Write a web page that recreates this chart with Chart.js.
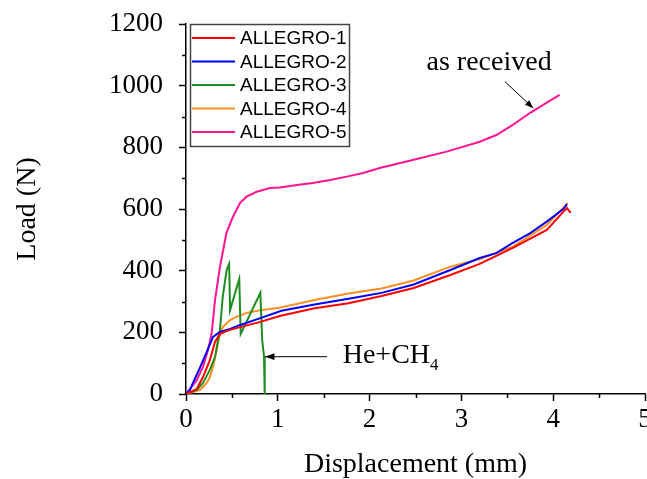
<!DOCTYPE html>
<html>
<head>
    <title>Load vs Displacement</title>
    <script src="https://cdn.jsdelivr.net/npm/chart.js"></script>
    <style>
        body {
            margin: 0;
            background-color: #fff;
        }
        #loadChart {
            display: block;
        }
    </style>
</head>
<body>
    <canvas id="loadChart" width="647" height="479"></canvas>

    <script>
        // displacement (mm) and load (N)
        var a1X = [0, 0.117, 0.185, 0.26, 0.316, 0.37, 0.48, 0.59, 0.81, 1.02, 1.40, 1.77, 2.13, 2.48, 2.88, 3.20, 3.56, 3.93, 4.13, 4.15, 4.19];
        var a1Y = [0, 16, 55, 110, 169, 195, 208, 217, 234, 253, 278, 294, 318, 344, 386, 422, 474, 532, 597, 603, 587];

        var a2X = [0, 0.044, 0.076, 0.15, 0.225, 0.294, 0.37, 0.48, 0.59, 0.81, 1.04, 1.40, 1.77, 2.13, 2.48, 2.88, 3.20, 3.38, 3.56, 3.75, 3.93, 4.11, 4.15];
        var a2Y = [0, 13, 36, 84, 136, 185, 201, 211, 224, 246, 270, 290, 309, 328, 355, 402, 441, 457, 490, 522, 559, 600, 616];

        var a3X = [0, 0.117, 0.185, 0.26, 0.316, 0.37, 0.40, 0.443, 0.47, 0.48, 0.58, 0.596, 0.81, 0.83, 0.85, 0.857];
        var a3Y = [0, 13, 36, 78, 120, 208, 315, 402, 422, 272, 373, 195, 328, 175, 121, 0];

        var a4X = [0, 0.15, 0.225, 0.26, 0.294, 0.334, 0.36, 0.40, 0.48, 0.55, 0.66, 0.81, 1.02, 1.40, 1.77, 2.13, 2.48, 2.88, 3.20, 3.56, 3.93, 4.16];
        var a4Y = [0, 13, 36, 55, 88, 143, 182, 217, 240, 250, 263, 272, 280, 305, 326, 342, 368, 413, 438, 478, 548, 620];

        var a5X = [0, 0.117, 0.185, 0.24, 0.28, 0.316, 0.37, 0.44, 0.51, 0.59, 0.66, 0.77, 0.915, 1.02, 1.21, 1.38, 1.57, 1.75, 1.93, 2.11, 2.47, 2.84, 3.20, 3.38, 3.56, 3.75, 3.93, 4.07];
        var a5Y = [0, 45, 88, 143, 198, 305, 412, 522, 574, 620, 640, 656, 668, 670, 678, 684, 694, 705, 717, 733, 759, 786, 818, 840, 873, 912, 945, 970];

        var seriesNames = ['ALLEGRO-1', 'ALLEGRO-2', 'ALLEGRO-3', 'ALLEGRO-4', 'ALLEGRO-5'];
        var seriesColors = ['#ff0000', '#0000ff', '#1e8c1e', '#ff9020', '#ff1493'];

        var xMinorTicks = [0.5, 1.5, 2.5, 3.5, 4.5];
        var yMinorTicks = [100, 300, 500, 700, 900, 1100];

        // annotation anchors in data units
        var asReceivedText = { x: 2.62, y: 1051 };
        var asReceivedArrow = { x1: 3.475, y1: 1013, x2: 3.783, y2: 927 };
        var heText = { x: 1.707, y: 100 };
        var heArrow = { x1: 1.536, y1: 121, x2: 0.861, y2: 121 };

        function toPoints(xs, ys) {
            return xs.map(function (x, i) { return { x: x, y: ys[i] }; });
        }

        var allX = [a1X, a2X, a3X, a4X, a5X];
        var allY = [a1Y, a2Y, a3Y, a4Y, a5Y];
        var datasets = seriesNames.map(function (name, i) {
            return {
                label: name,
                data: toPoints(allX[i], allY[i]),
                borderColor: seriesColors[i],
                backgroundColor: seriesColors[i],
                borderWidth: 2,
                pointRadius: 0,
                tension: 0,
                fill: false
            };
        });

        function arrow(ctx, x1, y1, x2, y2, head) {
            var ang = Math.atan2(y2 - y1, x2 - x1);
            ctx.beginPath();
            ctx.moveTo(x1, y1);
            ctx.lineTo(x2, y2);
            ctx.stroke();
            ctx.beginPath();
            ctx.moveTo(x2, y2);
            ctx.lineTo(x2 - head * Math.cos(ang - 0.35), y2 - head * Math.sin(ang - 0.35));
            ctx.lineTo(x2 - head * Math.cos(ang + 0.35), y2 - head * Math.sin(ang + 0.35));
            ctx.closePath();
            ctx.fill();
        }

        var extras = {
            id: 'extras',
            afterDraw: function (chart) {
                var ctx = chart.ctx;
                var xs = chart.scales.x, ys = chart.scales.y;
                var area = chart.chartArea;
                ctx.save();
                ctx.strokeStyle = '#000';
                ctx.fillStyle = '#000';

                // minor ticks
                ctx.lineWidth = 1.5;
                yMinorTicks.forEach(function (v) {
                    var py = Math.round(ys.getPixelForValue(v)) + 0.5;
                    ctx.beginPath();
                    ctx.moveTo(area.left - 4, py);
                    ctx.lineTo(area.left, py);
                    ctx.stroke();
                });
                xMinorTicks.forEach(function (v) {
                    var px = Math.round(xs.getPixelForValue(v)) + 0.5;
                    ctx.beginPath();
                    ctx.moveTo(px, area.bottom);
                    ctx.lineTo(px, area.bottom + 4);
                    ctx.stroke();
                });

                // annotations
                ctx.font = '28px "Liberation Serif"';
                ctx.textBaseline = 'alphabetic';
                ctx.textAlign = 'left';
                ctx.fillText('as received', xs.getPixelForValue(asReceivedText.x), ys.getPixelForValue(asReceivedText.y));
                var hx = xs.getPixelForValue(heText.x), hy = ys.getPixelForValue(heText.y);
                ctx.fillText('He+CH', hx, hy);
                var w = ctx.measureText('He+CH').width;
                ctx.font = '17px "Liberation Serif"';
                ctx.fillText('4', hx + w, hy + 7);

                ctx.lineWidth = 1;
                arrow(ctx, xs.getPixelForValue(asReceivedArrow.x1), ys.getPixelForValue(asReceivedArrow.y1),
                    xs.getPixelForValue(asReceivedArrow.x2), ys.getPixelForValue(asReceivedArrow.y2), 9);
                arrow(ctx, xs.getPixelForValue(heArrow.x1), ys.getPixelForValue(heArrow.y1),
                    xs.getPixelForValue(heArrow.x2), ys.getPixelForValue(heArrow.y2), 10);

                // boxed legend
                var lx = 190.5, ly = 24.5, lw = 159, lh = 122;
                ctx.fillStyle = '#fff';
                ctx.fillRect(lx, ly, lw, lh);
                ctx.strokeStyle = '#444';
                ctx.lineWidth = 1.5;
                ctx.strokeRect(lx, ly, lw, lh);
                ctx.font = '19px "Liberation Sans"';
                ctx.textBaseline = 'middle';
                chart.data.datasets.forEach(function (ds, i) {
                    var ry = 38 + i * 23.5;
                    ctx.strokeStyle = ds.borderColor;
                    ctx.lineWidth = 2;
                    ctx.beginPath();
                    ctx.moveTo(192, ry);
                    ctx.lineTo(235, ry);
                    ctx.stroke();
                    ctx.fillStyle = '#000';
                    ctx.fillText(ds.label, 240, ry + 1);
                });
                ctx.restore();
            }
        };

        var ctx = document.getElementById('loadChart').getContext('2d');
        var loadChart = new Chart(ctx, {
            type: 'line',
            data: { datasets: datasets },
            options: {
                responsive: false,
                animation: false,
                layout: { padding: { top: 24, right: 2, bottom: 0, left: 0 } },
                plugins: {
                    legend: { display: false },
                    tooltip: { enabled: false }
                },
                scales: {
                    x: {
                        type: 'linear',
                        min: 0,
                        max: 5,
                        ticks: {
                            stepSize: 1,
                            padding: 3,
                            color: '#000',
                            maxRotation: 0,
                            font: { family: 'Liberation Serif', size: 27 },
                            callback: function (v) { return String(v); }
                        },
                        grid: {
                            drawOnChartArea: false,
                            tickLength: 7,
                            tickColor: '#000',
                            tickWidth: 1.5
                        },
                        border: { color: '#000', width: 1.5 },
                        title: {
                            display: true,
                            text: 'Displacement (mm)',
                            color: '#000',
                            font: { family: 'Liberation Serif', size: 28, lineHeight: 1 },
                            padding: { top: 0, bottom: 0 }
                        },
                        afterFit: function (scale) {
                            scale.height = 85;
                            scale.paddingLeft = 0;
                            scale.paddingRight = 0;
                        }
                    },
                    y: {
                        min: 0,
                        max: 1200,
                        ticks: {
                            stepSize: 200,
                            padding: 16,
                            color: '#000',
                            font: { family: 'Liberation Serif', size: 27 },
                            callback: function (v) { return String(v); }
                        },
                        grid: {
                            drawOnChartArea: false,
                            tickLength: 7,
                            tickColor: '#000',
                            tickWidth: 1.5
                        },
                        border: { color: '#000', width: 1.5 },
                        title: {
                            display: true,
                            text: 'Load (N)',
                            color: '#000',
                            font: { family: 'Liberation Serif', size: 28, lineHeight: 1 },
                            padding: { top: 14, bottom: 0 }
                        },
                        afterFit: function (scale) {
                            scale.width = 186;
                            scale.paddingTop = 0;
                            scale.paddingBottom = 0;
                        }
                    }
                }
            },
            plugins: [extras]
        });
    </script>
</body>
</html>
